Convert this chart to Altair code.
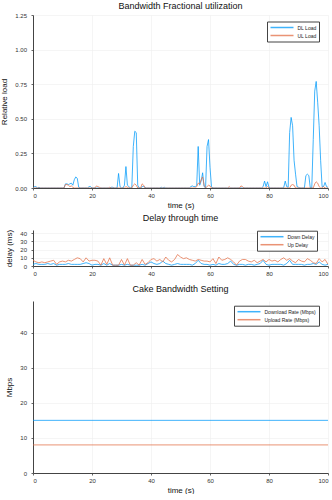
import altair as alt
import pandas as pd

FONT = "Liberation Sans"
BLUE = "#009AFA"
ORANGE = "#E36F47"

# ---- Panel 1: bandwidth fractional utilization (t = 0, 0.5, ..., 100) ----
load_time = [i * 0.5 for i in range(201)]
dl_load = [
    0.0, 0.01, 0.01, 0.0, 0.005, 0.0, 0.0, 0.0, 0.0, 0.0,  # 0-4.5
    0.0, 0.0, 0.0, 0.0, 0.0, 0.0, 0.0, 0.0, 0.0, 0.0,  # 5-9.5
    0.0, 0.0, 0.03, 0.03, 0.025, 0.03, 0.035, 0.02, 0.06, 0.08,  # 10-14.5
    0.07, 0.005, 0.0, 0.0, 0.0, 0.0, 0.0, 0.0, 0.01, 0.01,  # 15-19.5
    0.0, 0.0, 0.0, 0.0, 0.0, 0.0, 0.0, 0.0, 0.0, 0.0,  # 20-24.5
    0.0, 0.0, 0.0, 0.005, 0.005, 0.0, 0.0, 0.0, 0.105, 0.01,  # 25-29.5
    0.0, 0.0, 0.02, 0.155, 0.02, 0.01, 0.0, 0.005, 0.30, 0.41,  # 30-34.5
    0.40, 0.02, 0.0, 0.0, 0.01, 0.01, 0.005, 0.0, 0.0, 0.0,  # 35-39.5
    0.0, 0.0, 0.0, 0.0, 0.0, 0.0, 0.0, 0.005, 0.0, 0.005,  # 40-44.5
    0.0, 0.0, 0.0, 0.0, 0.0, 0.0, 0.0, 0.0, 0.0, 0.0,  # 45-49.5
    0.0, 0.0, 0.0, 0.0, 0.0, 0.0, 0.0, 0.01, 0.015, 0.01,  # 50-54.5
    0.01, 0.02, 0.30, 0.02, 0.05, 0.11, 0.01, 0.0, 0.30, 0.35,  # 55-59.5
    0.15, 0.01, 0.0, 0.0, 0.0, 0.0, 0.0, 0.0, 0.0, 0.0,  # 60-64.5
    0.0, 0.0, 0.0, 0.0, 0.0, 0.0, 0.0, 0.0, 0.0, 0.0,  # 65-69.5
    0.0, 0.0, 0.0, 0.0, 0.0, 0.0, 0.0, 0.0, 0.0, 0.0,  # 70-74.5
    0.0, 0.0, 0.0, 0.0, 0.0, 0.0, 0.01, 0.05, 0.01, 0.045,  # 75-79.5
    0.005, 0.0, 0.0, 0.0, 0.0, 0.0, 0.0, 0.0, 0.0, 0.0,  # 80-84.5
    0.005, 0.05, 0.01, 0.005, 0.40, 0.51, 0.45, 0.20, 0.10, 0.01,  # 85-89.5
    0.005, 0.0, 0.0, 0.0, 0.0, 0.09, 0.10, 0.09, 0.0, 0.0,  # 90-94.5
    0.35, 0.70, 0.77, 0.62, 0.45, 0.20, 0.01, 0.01, 0.04, 0.01,  # 95-99.5
    0.005,  # 100
]

ul_load = [
    0.0, 0.0, 0.0, 0.0, 0.0, 0.0, 0.0, 0.0, 0.0, 0.0,  # 0-4.5
    0.0, 0.0, 0.0, 0.0, 0.0, 0.0, 0.0, 0.0, 0.0, 0.0,  # 5-9.5
    0.0, 0.0, 0.025, 0.025, 0.02, 0.01, 0.015, 0.005, 0.0, 0.0,  # 10-14.5
    0.0, 0.0, 0.0, 0.0, 0.0, 0.0, 0.0, 0.0, 0.0, 0.0,  # 15-19.5
    0.0, 0.0, 0.0, 0.015, 0.01, 0.005, 0.0, 0.0, 0.0, 0.0,  # 20-24.5
    0.0, 0.0, 0.005, 0.0, 0.0, 0.0, 0.0, 0.0, 0.0, 0.0,  # 25-29.5
    0.0, 0.0, 0.0, 0.01, 0.005, 0.0, 0.0, 0.0, 0.02, 0.03,  # 30-34.5
    0.02, 0.0, 0.0, 0.0, 0.03, 0.02, 0.0, 0.0, 0.0, 0.0,  # 35-39.5
    0.0, 0.0, 0.0, 0.0, 0.0, 0.0, 0.0, 0.0, 0.0, 0.0,  # 40-44.5
    0.0, 0.0, 0.0, 0.0, 0.0, 0.0, 0.0, 0.0, 0.0, 0.0,  # 45-49.5
    0.0, 0.0, 0.0, 0.0, 0.0, 0.0, 0.0, 0.0, 0.0, 0.0,  # 50-54.5
    0.0, 0.01, 0.035, 0.03, 0.06, 0.08, 0.02, 0.0, 0.01, 0.02,  # 55-59.5
    0.015, 0.0, 0.0, 0.0, 0.0, 0.0, 0.0, 0.0, 0.0, 0.0,  # 60-64.5
    0.0, 0.0, 0.0, 0.01, 0.0, 0.0, 0.0, 0.0, 0.0, 0.0,  # 65-69.5
    0.0, 0.015, 0.01, 0.0, 0.0, 0.0, 0.0, 0.0, 0.0, 0.0,  # 70-74.5
    0.0, 0.0, 0.0, 0.0, 0.0, 0.0, 0.0, 0.0, 0.0, 0.01,  # 75-79.5
    0.0, 0.0, 0.0, 0.0, 0.0, 0.0, 0.0, 0.0, 0.0, 0.0,  # 80-84.5
    0.0, 0.0, 0.0, 0.0, 0.0, 0.02, 0.025, 0.02, 0.0, 0.0,  # 85-89.5
    0.0, 0.0, 0.0, 0.0, 0.0, 0.0, 0.0, 0.0, 0.0, 0.0,  # 90-94.5
    0.0, 0.03, 0.045, 0.035, 0.01, 0.0, 0.0, 0.01, 0.0, 0.0,  # 95-99.5
    0.0,  # 100
]

# ---- Panel 2: delay through time (t = 0..100 s) ----
delay_time = list(range(101))
up_delay = [7, 5, 4, 5, 4, 5, 6, 7, 2, 5, 6, 5, 7, 6, 8, 10, 9, 5, 10, 6,
            7, 7, 6, 1, 9, 2, 10, 1, 1, 1, 8, 1, 9, 1, 1, 4, 1, 8, 2, 4,
            8, 9, 6, 8, 5, 11, 7, 5, 8, 14, 11, 9, 10, 8, 7, 6, 8, 7, 6, 6,
            5, 9, 3, 11, 7, 8, 10, 8, 5, 1, 6, 8, 8, 6, 5, 7, 4, 6, 8, 5,
            8, 6, 7, 5, 8, 10, 7, 9, 6, 4, 8, 6, 5, 9, 7, 4, 3, 9, 5, 8, 2]
down_delay = [2, 3, 2, 2, 2, 3, 2, 3, 1, 2, 2, 2, 3, 2, 2, 2, 2, 3, 4, 3,
              1, 2, 2, 1, 3, 1, 3, 1, 1, 1, 2, 1, 2, 1, 1, 1, 1, 2, 1, 3,
              5, 3, 2, 3, 6, 3, 2, 1, 2, 3, 2, 2, 2, 2, 1, 3, 7, 3, 2, 2,
              1, 2, 1, 3, 2, 2, 3, 6, 2, 1, 2, 2, 1, 2, 2, 1, 2, 3, 7, 2,
              1, 2, 2, 2, 2, 1, 3, 7, 2, 2, 2, 2, 1, 2, 2, 3, 2, 5, 2, 1, 2]

# ---- Panel 3: cake bandwidth setting ----
cake_time = [0, 100]
download_rate = [15, 15]
upload_rate = [8, 8]

x_ticks = [0, 20, 40, 60, 80, 100]

df1 = pd.concat([
    pd.DataFrame({"t": load_time, "v": dl_load, "s": "DL Load"}),
    pd.DataFrame({"t": load_time, "v": ul_load, "s": "UL Load"}),
])
df2 = pd.concat([
    pd.DataFrame({"t": delay_time, "v": down_delay, "s": "Down Delay"}),
    pd.DataFrame({"t": delay_time, "v": up_delay, "s": "Up Delay"}),
])
df3 = pd.concat([
    pd.DataFrame({"t": cake_time, "v": download_rate, "s": "Download Rate (Mbps)"}),
    pd.DataFrame({"t": cake_time, "v": upload_rate, "s": "Upload Rate (Mbps)"}),
])

W = 295


def legend(lx, ly):
    return alt.Legend(
        title=None, orient="none", legendX=lx, legendY=ly,
        symbolType="M-4.6,0H4.6", symbolSize=25, symbolStrokeWidth=1.5,
        symbolOffset=9, labelOffset=12, symbolOpacity=0.75,
        labelFontSize=5, labelFont=FONT, labelColor="#222",
        strokeColor="#444", fillColor="white", padding=2.5, rowPadding=1,
        labelLimit=200,
    )


def panel(df, title, ytitle, ydom, yvals, fmt, h, xaxis, toff, names, lx, ly):
    return alt.Chart(df, title=alt.Title(title, offset=toff)).mark_line(
        strokeWidth=1, interpolate="linear", clip=True, opacity=0.75
    ).encode(
        x=alt.X("t:Q", scale=alt.Scale(domain=[0, 100], nice=False), axis=xaxis),
        y=alt.Y("v:Q", scale=alt.Scale(domain=ydom, nice=False),
                axis=alt.Axis(title=ytitle, values=yvals, format=fmt,
                              titlePadding=6)),
        color=alt.Color("s:N", scale=alt.Scale(domain=names, range=[BLUE, ORANGE]),
                        legend=legend(lx, ly)),
    ).properties(width=W, height=h)


p1 = panel(df1, "Bandwidth Fractional utilization", "Relative load", [0, 1.25],
           [0, 0.25, 0.5, 0.75, 1.0, 1.25], ".2f", 173,
           alt.Axis(title="time (s)", values=x_ticks), 1,
           ["DL Load", "UL Load"], 234, 6.5)
p2 = panel(df2, "Delay through time", "delay (ms)", [0, 44],
           [0, 10, 20, 30, 40], "d", 36,
           alt.Axis(title=" ", values=x_ticks, titleFontSize=4, titlePadding=0),
           6, ["Down Delay", "Up Delay"], 224, 0.7)
p3 = panel(df3, "Cake Bandwidth Setting", "Mbps", [0, 49],
           [0, 10, 20, 30, 40], "d", 172,
           alt.Axis(title="time (s)", values=x_ticks), 7,
           ["Download Rate (Mbps)", "Upload Rate (Mbps)"], 201, 4.7)

chart = alt.vconcat(p1, p2, p3, spacing=5).resolve_scale(
    color="independent"
).resolve_legend(color="independent").properties(
    padding={"left": 0, "top": 2, "right": 0, "bottom": 0},
    background="white",
).configure_view(stroke=None).configure_axis(
    grid=True, gridColor="#eeeeee", gridWidth=0.6,
    domainColor="#444", domainWidth=1, tickSize=2, tickColor="#666",
    labelFontSize=6, labelFont=FONT, labelColor="#333", labelPadding=4.5,
    titleFontSize=8, titleFont=FONT, titleFontWeight="normal", titleColor="#111",
).configure_axisX(titlePadding=3, labelPadding=2).configure_title(
    fontSize=9, font=FONT, fontWeight="normal", color="#111", anchor="middle"
)

chart.save("out.html", embed_options={"renderer": "svg", "actions": False})
